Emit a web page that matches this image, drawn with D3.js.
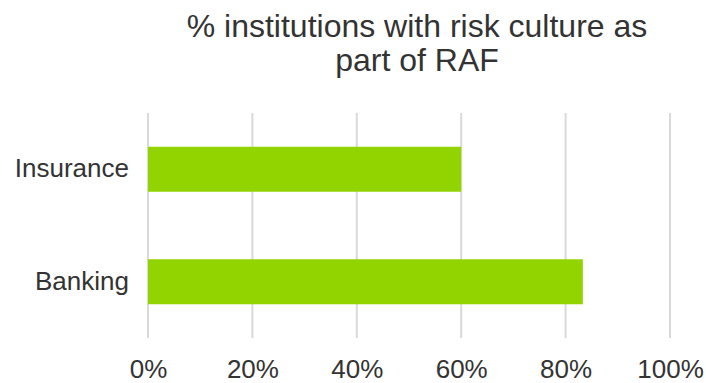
<!DOCTYPE html>
<html>
<head>
<meta charset="utf-8">
<script src="https://cdn.jsdelivr.net/npm/d3@7"></script>
<style>
  html, body { margin: 0; padding: 0; background: #fff; }
  svg { display: block; font-family: "Liberation Sans", Arial, sans-serif; }
</style>
</head>
<body>
<svg id="chart" width="706" height="383"></svg>
<script>
// Share of institutions that include risk culture in their RAF
const categories = ["Insurance", "Banking"];
const values = [0.60, 0.833];
const tickValues = [0, 0.2, 0.4, 0.6, 0.8, 1.0];
const titleLines = ["% institutions with risk culture as", "part of RAF"];

const svg = d3.select("#chart");
const margin = { left: 148, right: 36, top: 113, bottom: 45 };
const W = 706, H = 383;

const x = d3.scaleLinear().domain([0, 1]).range([margin.left, W - margin.right]);
const y = d3.scaleBand().domain(categories).range([margin.top, H - margin.bottom])
  .paddingInner(0.6).paddingOuter(0.3);

// gridlines
svg.append("g").selectAll("line").data(tickValues).join("line")
  .attr("x1", d => x(d)).attr("x2", d => x(d))
  .attr("y1", margin.top).attr("y2", H - margin.bottom)
  .attr("stroke", "#d9d9d9").attr("stroke-width", 2);

// bars
svg.append("g").selectAll("rect").data(categories).join("rect")
  .attr("x", x(0))
  .attr("y", d => y(d))
  .attr("width", (d, i) => x(values[i]) - x(0))
  .attr("height", y.bandwidth())
  .attr("fill", "#92d400");

// x axis labels
const xAxis = d3.axisBottom(x).tickValues(tickValues).tickSize(0).tickPadding(0)
  .tickFormat(d3.format(".0%"));
const gx = svg.append("g").attr("transform", `translate(0,${H - margin.bottom})`).call(xAxis);
gx.select(".domain").remove();
gx.selectAll("text").attr("font-size", 26).attr("fill", "#333333")
  .attr("font-family", "Liberation Sans, Arial, sans-serif")
  .attr("dy", null).attr("y", 40);

// category labels
const yAxis = d3.axisLeft(y).tickSize(0).tickPadding(19);
const gy = svg.append("g").attr("transform", `translate(${margin.left},0)`).call(yAxis);
gy.select(".domain").remove();
gy.selectAll("text").attr("font-size", 26).attr("fill", "#333333")
  .attr("font-family", "Liberation Sans, Arial, sans-serif")
  .attr("dy", "0.3em");

// title
svg.append("text").attr("text-anchor", "middle")
  .attr("font-size", 32).attr("fill", "#333333")
  .selectAll("tspan").data(titleLines).join("tspan")
  .attr("x", 417).attr("y", (d, i) => 37 + i * 34).text(d => d);
</script>
</body>
</html>
